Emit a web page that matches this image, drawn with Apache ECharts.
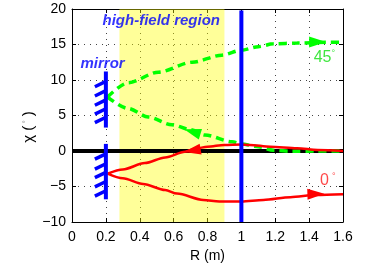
<!DOCTYPE html>
<html><head><meta charset="utf-8">
<script src="https://cdn.jsdelivr.net/npm/echarts@6/dist/echarts.min.js"></script>
<style>html,body{margin:0;padding:0;background:#fff}#c{width:382px;height:264px}</style>
</head><body><div id="c"></div>
<script>
// ---- data ----
const xRange = [0, 1.6];
const yRange = [-10, 20];
const xTickStep = 0.2;
const yTickStep = 5;
const highFieldRange = [0.28, 0.9];
const wallX = 1.0;             // vertical blue line at R = 1 m
const wallTop = 19.8;
const mirrorX = 0.2;
const mirrorUpper = [3.3, 11.2];
const mirrorLower = [-6.8, 1.0];
const hatchUpperY = [9.8, 8.5, 7.2, 5.95, 4.75];
const hatchLowerY = [-0.4, -1.8, -3.0, -4.3, -5.6];
const hatchDx = 0.065, hatchDy = 0.75;

// 0 degree ray: incoming (upper) and reflected (lower)
const red0InX  = [0.21, 0.3, 0.43, 0.55, 0.667, 0.73, 0.8, 0.9, 1.0, 1.05, 1.17, 1.33, 1.45, 1.6];
const red0InY  = [-3.2, -2.6, -1.7, -0.9, -0.1, 0.35, 0.6, 0.85, 0.9, 0.85, 0.6, 0.4, 0.15, 0.0];
const red0OutX = [0.21, 0.3, 0.42, 0.55, 0.62, 0.775, 0.87, 1.0, 1.13, 1.29, 1.44, 1.6];
const red0OutY = [-3.2, -3.85, -4.65, -5.5, -6.0, -6.9, -7.1, -7.1, -6.9, -6.5, -6.2, -6.1];
// 45 degree ray: incoming (lower) and reflected (upper)
const g45InX  = [0.21, 0.33, 0.45, 0.59, 0.70, 0.785, 0.945, 1.0, 1.1, 1.19, 1.3, 1.45, 1.6];
const g45InY  = [7.6, 6.0, 4.8, 3.7, 3.0, 2.25, 1.3, 1.0, 0.6, 0.1, -0.05, 0.0, 0.0];
const g45OutX = [0.21, 0.33, 0.51, 0.71, 0.885, 1.0, 1.1, 1.19, 1.33, 1.5, 1.6];
const g45OutY = [7.6, 9.6, 11.1, 12.5, 13.5, 14.2, 14.7, 15.1, 15.2, 15.3, 15.3];

// arrow heads: [x, y, direction in degrees on screen (ccw from +x)]
const arrowsRed   = [[0.71, 0.05, 190], [1.44, -6.06, 2]];
const arrowsGreen = [[0.71, 2.72, 163], [1.45, 15.35, 0]];

const labelRay0  = [1.51, -4.1];
const labelRay45 = [1.49, 13.2];
const textMirror = [0.05, 12.3];
const textHigh   = [0.18, 18.3];

// ---- chart ----
const font = 'Liberation Sans, Arial, Helvetica, sans-serif';
const zip = (xs, ys) => xs.map((x, i) => [x, ys[i]]);
const fmt = v => {
  const r = Math.round(v * 10) / 10;
  return (r < 0 ? '\u2212' : '') + String(Math.abs(r));
};

const series = [];
// high-field region
series.push({
  type: 'line', data: [], silent: true,
  markArea: { silent: true, z: 1,
    itemStyle: { color: 'rgba(255,255,0,0.4)' },
    data: [[{ xAxis: highFieldRange[0], yAxis: yRange[0] }, { xAxis: highFieldRange[1], yAxis: yRange[1] }]] }
});
function seg(pts, color, width, z) {
  series.push({ type: 'line', data: pts, symbol: 'none', silent: true, z: z || 3,
    lineStyle: { color: color, width: width, cap: 'butt' } });
}
// black axis line at 0
seg([[xRange[0], 0], [xRange[1], 0]], '#000', 4, 3);
// rays
series.push({ type: 'line', data: zip(red0InX, red0InY), symbol: 'none', smooth: 0.3, smoothMonotone: 'x', z: 5,
  lineStyle: { color: '#ff0000', width: 2.5 } });
series.push({ type: 'line', data: zip(red0OutX, red0OutY), symbol: 'none', smooth: 0.3, smoothMonotone: 'x', z: 5,
  lineStyle: { color: '#ff0000', width: 2.5 } });
series.push({ type: 'line', data: zip(g45InX, g45InY), symbol: 'none', smooth: 0.3, smoothMonotone: 'x', z: 4,
  lineStyle: { color: '#00ff00', width: 3.5, type: [8, 5] } });
series.push({ type: 'line', data: zip(g45OutX, g45OutY), symbol: 'none', smooth: 0.3, smoothMonotone: 'x', z: 4,
  lineStyle: { color: '#00ff00', width: 3.5, type: [8, 5] } });
// wall line
seg([[wallX, yRange[0]], [wallX, wallTop]], '#0000ff', 4, 6);
// mirrors
seg([[mirrorX, mirrorUpper[0]], [mirrorX, mirrorUpper[1]]], '#0000ff', 4, 6);
seg([[mirrorX, mirrorLower[0]], [mirrorX, mirrorLower[1]]], '#0000ff', 4, 6);
hatchUpperY.concat(hatchLowerY).forEach(y => seg([[mirrorX, y], [mirrorX - hatchDx, y - hatchDy]], '#0000ff', 3.5, 6));
// arrows (custom triangles oriented on screen)
function arrows(list, color) {
  series.push({ type: 'custom', z: 7, silent: true, data: list,
    renderItem: function (params, api) {
      const p = api.coord([api.value(0), api.value(1)]);
      const a = api.value(2) * Math.PI / 180;
      const dx = Math.cos(a), dy = -Math.sin(a);
      const L = 17, W = 11;
      const tip = [p[0] + dx * L / 2, p[1] + dy * L / 2];
      const b = [p[0] - dx * L / 2, p[1] - dy * L / 2];
      const nx = -dy, ny = dx;
      return { type: 'polygon',
        shape: { points: [tip, [b[0] + nx * W / 2, b[1] + ny * W / 2], [b[0] - nx * W / 2, b[1] - ny * W / 2]] },
        style: { fill: color } };
    } });
}
arrows(arrowsRed, '#ff0000');
arrows(arrowsGreen, '#00ff00');
// text labels
function label(pos, formatter, rich, align) {
  series.push({ type: 'scatter', z: 8, silent: true, data: [pos], symbolSize: 0,
    label: { show: true, position: 'inside', formatter: formatter, rich: rich, align: align || 'center' } });
}
label(labelRay45, '{n|45}{d|°}', { n: { fontSize: 16, color: '#10e010', fontFamily: font }, d: { fontSize: 9, color: '#10e010', verticalAlign: 'top', fontFamily: font } });
label(labelRay0, '{n|0}{d|°}', { n: { fontSize: 16, color: '#ff1a1a', fontFamily: font }, d: { fontSize: 9, color: '#ff1a1a', verticalAlign: 'top', padding: [0, 0, 0, 3], fontFamily: font } });
label(textMirror, '{t|mirror}', { t: { fontSize: 15, color: '#0000ff', fontWeight: 'bold', fontStyle: 'italic', fontFamily: font } }, 'left');
label(textHigh, '{t|high-field region}', { t: { fontSize: 15, color: '#0000ff', fontWeight: 'bold', fontStyle: 'italic', fontFamily: font } }, 'left');

const gridLine = { show: true, lineStyle: { color: '#444', width: 1, type: [1, 5] } };
const option = {
  animation: false,
  backgroundColor: '#fff',
  grid: { left: 72, right: 39, top: 9, bottom: 42, containLabel: false, outerBoundsMode: 'none' },
  graphic: [{
    type: 'text', x: 29, y: 127, rotation: Math.PI / 2, silent: true,
    style: { text: '{a|χ (}{b| °}{a| )}', align: 'center', verticalAlign: 'middle',
      rich: { a: { fontSize: 15, fill: '#000', fontFamily: font }, b: { fontSize: 8, fill: '#999', verticalAlign: 'top', fontFamily: font } } }
  }],
  xAxis: [{
    type: 'value', min: xRange[0], max: xRange[1], interval: xTickStep,
    name: 'R (m)', nameLocation: 'middle', nameGap: 26,
    nameTextStyle: { fontSize: 14, color: '#000', fontFamily: font },
    axisLine: { show: true, onZero: false, lineStyle: { color: '#000', width: 1 } },
    axisTick: { show: true, inside: true, length: 4, lineStyle: { color: '#000' } },
    axisLabel: { fontSize: 14, color: '#000', fontFamily: font, margin: 8, formatter: fmt },
    splitLine: gridLine
  }, {
    type: 'value', position: 'top', min: xRange[0], max: xRange[1], interval: xTickStep,
    axisLine: { show: true, onZero: false, lineStyle: { color: '#000', width: 1 } },
    axisTick: { show: true, inside: true, length: 4, lineStyle: { color: '#000' } },
    axisLabel: { show: false }, splitLine: { show: false }
  }],
  yAxis: [{
    type: 'value', min: yRange[0], max: yRange[1], interval: yTickStep,
    axisLine: { show: true, onZero: false, lineStyle: { color: '#000', width: 1 } },
    axisTick: { show: true, inside: true, length: 4, lineStyle: { color: '#000' } },
    axisLabel: { fontSize: 14, color: '#000', fontFamily: font, margin: 6, formatter: fmt },
    splitLine: gridLine
  }, {
    type: 'value', position: 'right', min: yRange[0], max: yRange[1], interval: yTickStep,
    axisLine: { show: true, onZero: false, lineStyle: { color: '#000', width: 1 } },
    axisTick: { show: true, inside: true, length: 4, lineStyle: { color: '#000' } },
    axisLabel: { show: false }, splitLine: { show: false }
  }],
  series: series
};
const chart = echarts.init(document.getElementById('c'), null, { renderer: 'canvas' });
chart.setOption(option);
</script>
</body></html>
